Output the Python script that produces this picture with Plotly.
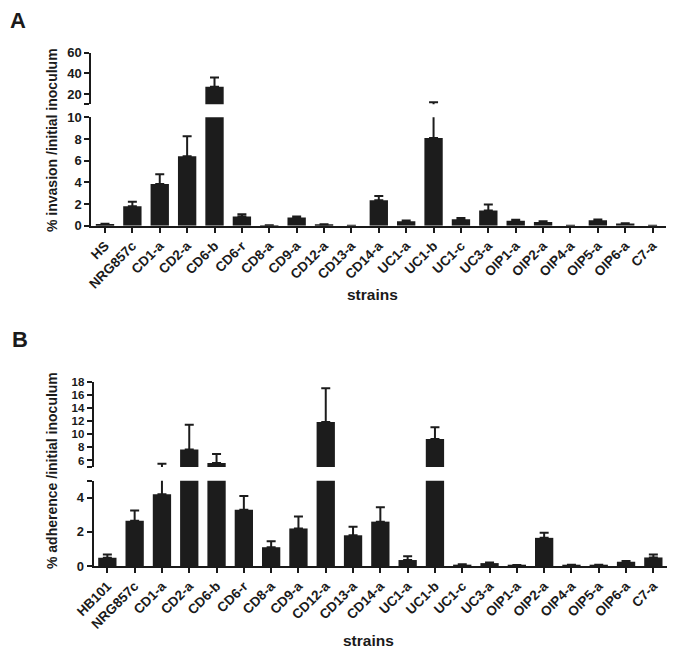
import plotly.graph_objects as go

# ---------------- data ----------------
strains_a = ["HS", "NRG857c", "CD1-a", "CD2-a", "CD6-b", "CD6-r", "CD8-a", "CD9-a",
             "CD12-a", "CD13-a", "CD14-a", "UC1-a", "UC1-b", "UC1-c", "UC3-a",
             "OIP1-a", "OIP2-a", "OIP4-a", "OIP5-a", "OIP6-a", "C7-a"]
invasion = [0.15, 1.8, 3.85, 6.4, 27.0, 0.85, 0.03, 0.75, 0.1, 0.0, 2.35, 0.4, 8.1,
            0.6, 1.4, 0.45, 0.35, 0.0, 0.5, 0.2, 0.0]
invasion_err = [0.03, 0.4, 0.9, 1.85, 9.0, 0.2, 0.0, 0.1, 0.04, 0.0, 0.4, 0.08, 3.9,
                0.1, 0.55, 0.1, 0.05, 0.0, 0.08, 0.03, 0.0]

strains_b = ["HB101", "NRG857c", "CD1-a", "CD2-a", "CD6-b", "CD6-r", "CD8-a", "CD9-a",
             "CD12-a", "CD13-a", "CD14-a", "UC1-a", "UC1-b", "UC1-c", "UC3-a",
             "OIP1-a", "OIP2-a", "OIP4-a", "OIP5-a", "OIP6-a", "C7-a"]
adherence = [0.48, 2.65, 4.2, 7.7, 5.6, 3.3, 1.1, 2.2, 11.9, 1.8, 2.6, 0.35, 9.3,
             0.08, 0.17, 0.05, 1.65, 0.07, 0.06, 0.25, 0.5]
adherence_err = [0.2, 0.6, 1.3, 3.8, 1.4, 0.8, 0.35, 0.7, 5.2, 0.5, 0.85, 0.22, 1.8,
                 0.02, 0.03, 0.01, 0.3, 0.01, 0.01, 0.04, 0.18]

a_upper_ticks = [10, 20, 40, 60]
a_upper_text = ["", "20", "40", "60"]
a_lower_ticks = [0, 2, 4, 6, 8, 10]
b_upper_ticks = [5, 6, 8, 10, 12, 14, 16, 18]
b_upper_text = ["", "6", "8", "10", "12", "14", "16", "18"]
b_lower_ticks = [0, 2, 4, 5]
b_lower_text = ["0", "2", "4", ""]

# ---------------- figure ----------------
W, H = 676, 653
BAR = "#1c1c1c"
INK = "#1a1a1a"
FONT = "Liberation Sans"


def fy(px):
    return 1 - px / H


def fx(px):
    return px / W


def bar(x, y, err, xa, ya):
    return go.Bar(
        x=x, y=y, xaxis=xa, yaxis=ya, width=0.67,
        marker=dict(color=BAR, line=dict(width=0)),
        error_y=dict(type="data", array=err, arrayminus=[0] * len(err),
                     symmetric=False, color=BAR, thickness=2, width=4.5),
        showlegend=False, hoverinfo="x+y",
    )


fig = go.Figure()
fig.add_trace(bar(strains_a, invasion, invasion_err, "x", "y"))
fig.add_trace(bar(strains_a, invasion, invasion_err, "x", "y2"))
fig.add_trace(bar(strains_b, adherence, adherence_err, "x2", "y3"))
fig.add_trace(bar(strains_b, adherence, adherence_err, "x2", "y4"))

tickfont = dict(family=FONT, size=13, color=INK, weight="bold")
smallfont = dict(family=FONT, size=11.5, color=INK, weight="bold")
catfont = dict(family=FONT, size=13.5, color=INK, weight="bold")


def yax(dom, rng, vals, text, anchor, font=tickfont):
    return dict(domain=dom, range=rng, tickvals=vals, ticktext=text, anchor=anchor,
                showline=True, linecolor=INK, linewidth=2, ticks="outside",
                ticklen=5, tickwidth=2, tickcolor=INK, showgrid=False,
                zeroline=False, tickfont=font, fixedrange=True,
                automargin=False)


def xax(dom, anchor):
    return dict(domain=dom, anchor=anchor, range=[-0.5, 20.5], showline=True,
                linecolor=INK, linewidth=2, ticks="outside", ticklen=5,
                tickwidth=2, tickcolor=INK, showgrid=False, zeroline=False,
                tickangle=-45, tickfont=catfont, fixedrange=True,
                automargin=False)


fig.update_layout(
    width=W, height=H,
    margin=dict(l=0, r=0, t=0, b=0, autoexpand=False),
    paper_bgcolor="white", plot_bgcolor="white",
    bargap=0.33,
    xaxis=xax([fx(91.3), fx(666.3)], "y2"),
    xaxis2=xax([fx(93.7), fx(667)], "y4"),
    yaxis=yax([fy(104.35), fy(52.7)], [10, 60], a_upper_ticks, a_upper_text, "x"),
    yaxis2=yax([fy(225.7), fy(117.3)], [0, 10], a_lower_ticks,
               [str(v) for v in a_lower_ticks], "x"),
    yaxis3=yax([fy(467), fy(382.3)], [5, 18], b_upper_ticks, b_upper_text, "x2",
               smallfont),
    yaxis4=yax([fy(566), fy(480.7)], [0, 5], b_lower_ticks, b_lower_text, "x2"),
    annotations=[
        dict(text="A", x=fx(8), y=fy(6), xref="paper", yref="paper",
             xanchor="left", yanchor="top", showarrow=False,
             font=dict(family=FONT, size=22, color=INK, weight="bold")),
        dict(text="B", x=fx(10), y=fy(325), xref="paper", yref="paper",
             xanchor="left", yanchor="top", showarrow=False,
             font=dict(family=FONT, size=22, color=INK, weight="bold")),
        dict(text="% invasion /initial inoculum", x=fx(52), y=fy(140),
             xref="paper", yref="paper", textangle=-90, showarrow=False,
             xanchor="center", yanchor="middle",
             font=dict(family=FONT, size=14, color=INK, weight="bold")),
        dict(text="% adherence /initial inoculum", x=fx(52), y=fy(471),
             xref="paper", yref="paper", textangle=-90, showarrow=False,
             xanchor="center", yanchor="middle",
             font=dict(family=FONT, size=14, color=INK, weight="bold")),
        dict(text="strains", x=fx(372), y=fy(295), xref="paper", yref="paper",
             showarrow=False, xanchor="center", yanchor="middle",
             font=dict(family=FONT, size=15.5, color=INK, weight="bold")),
        dict(text="strains", x=fx(368), y=fy(640), xref="paper", yref="paper",
             showarrow=False, xanchor="center", yanchor="middle",
             font=dict(family=FONT, size=15.5, color=INK, weight="bold")),
    ],
)

fig.write_html("out.html",
               config={"displayModeBar": False},
               post_script="document.body.style.margin='0';"
                           "document.body.style.overflow='hidden';")
